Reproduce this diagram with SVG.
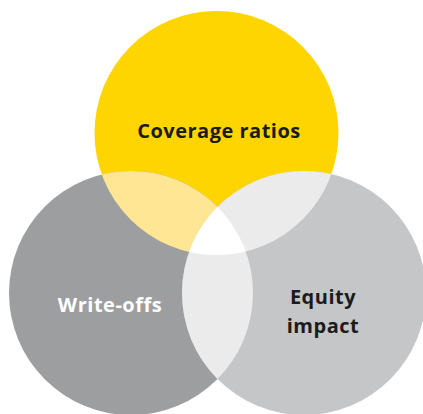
<svg xmlns="http://www.w3.org/2000/svg" width="423" height="414" viewBox="0 0 423 414">
<style>
.lbl{font-family:"Open Sans","Liberation Sans",sans-serif;font-weight:700;font-size:20px;letter-spacing:0.5px;text-anchor:middle}
.dark{fill:#1b1b1b}
.light{fill:#ffffff}
</style>
<defs>
<clipPath id="cY"><circle cx="216.5" cy="133" r="122"/></clipPath>
<clipPath id="cL"><circle cx="131" cy="293" r="122"/></clipPath>
<clipPath id="cR"><circle cx="304" cy="293" r="122"/></clipPath>
</defs>
<rect width="423" height="414" fill="#ffffff"/>
<g id="node-coverage"><circle cx="216.5" cy="133" r="122" fill="#FFD500"/></g>
<g id="node-writeoffs"><circle cx="131" cy="293" r="122" fill="#9D9EA0"/></g>
<g id="node-equity"><circle cx="304" cy="293" r="122" fill="#C5C6C8"/></g>
<g id="overlaps">
<circle cx="131" cy="293" r="122" fill="#FFE695" clip-path="url(#cY)"/>
<circle cx="304" cy="293" r="122" fill="#EBEBEB" clip-path="url(#cY)"/>
<circle cx="304" cy="293" r="122" fill="#EBEBEB" clip-path="url(#cL)"/>
<g clip-path="url(#cY)"><circle cx="304" cy="293" r="122" fill="#FFFFFF" clip-path="url(#cL)"/></g>
</g>
<g id="labels">
<text class="lbl dark" x="219" y="138">Coverage ratios</text>
<text class="lbl light" x="110" y="312">Write-offs</text>
<text class="lbl dark" x="323" y="304">Equity</text>
<text class="lbl dark" x="323" y="333">impact</text>
</g>
</svg>
